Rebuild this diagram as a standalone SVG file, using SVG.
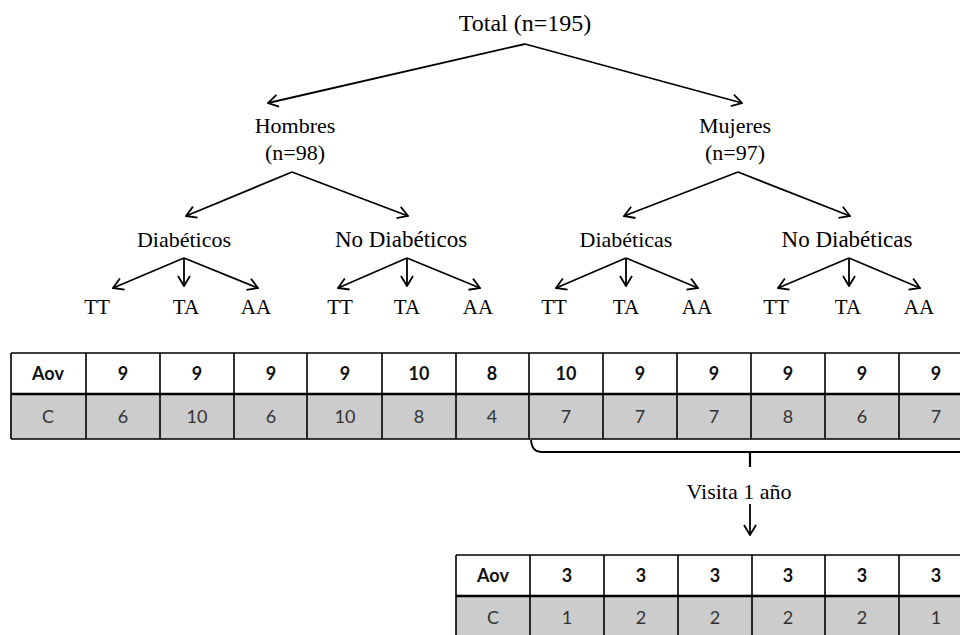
<svg xmlns="http://www.w3.org/2000/svg" width="960" height="635" viewBox="0 0 960 635">
  <defs>
    <marker id="head" viewBox="0 0 12 14" refX="11" refY="7" markerWidth="12" markerHeight="14" markerUnits="userSpaceOnUse" orient="auto">
      <path d="M1,1 L11,7 L1,13" fill="none" stroke="#000" stroke-width="1.8"/>
    </marker>
    <style>
      .lbl { font-family: "Liberation Serif", "Times New Roman", serif; font-size: 22px; fill: #000; text-anchor: middle; }
      .big { font-size: 24px; }
      .mid { font-size: 23px; }
      .gt { font-size: 21px; }
      .edge { stroke: #000; stroke-width: 1.8; fill: none; marker-end: url(#head); }
      .grid { stroke: #000; stroke-width: 1.6; fill: none; }
      .hdr { fill: #fff; }
      .shade { fill: #cccccc; }
      .th { font-family: Lato, "Open Sans", sans-serif; font-size: 18px; font-weight: bold; fill: #111; text-anchor: middle; }
      .td { font-family: Lato, "Open Sans", sans-serif; font-size: 18px; fill: #333; text-anchor: middle; }
    </style>
  </defs>
  <rect width="960" height="635" fill="#fff"/>

  <!-- tree labels -->
  <g id="total"><text class="lbl big" x="525" y="31">Total (n=195)</text></g>
  <g id="hombres"><text class="lbl" x="295" y="133">Hombres</text><text class="lbl" x="295" y="160">(n=98)</text></g>
  <g id="mujeres"><text class="lbl" x="735" y="133">Mujeres</text><text class="lbl" x="735" y="160">(n=97)</text></g>
  <g id="h-diab"><text class="lbl" x="184" y="247">Diab&#233;ticos</text></g>
  <g id="h-nodiab"><text class="lbl mid" x="401" y="247">No Diab&#233;ticos</text></g>
  <g id="m-diab"><text class="lbl" x="626" y="247">Diab&#233;ticas</text></g>
  <g id="m-nodiab"><text class="lbl mid" x="847" y="247">No Diab&#233;ticas</text></g>
  <g id="genotypes">
    <text class="lbl gt" x="97" y="314">TT</text><text class="lbl gt" x="186" y="314">TA</text><text class="lbl gt" x="256" y="314">AA</text>
    <text class="lbl gt" x="340" y="314">TT</text><text class="lbl gt" x="407" y="314">TA</text><text class="lbl gt" x="478" y="314">AA</text>
    <text class="lbl gt" x="554" y="314">TT</text><text class="lbl gt" x="626" y="314">TA</text><text class="lbl gt" x="697" y="314">AA</text>
    <text class="lbl gt" x="776" y="314">TT</text><text class="lbl gt" x="848" y="314">TA</text><text class="lbl gt" x="919" y="314">AA</text>
  </g>
  <g id="visita"><text class="lbl" x="739" y="499">Visita 1 a&#241;o</text></g>

  <!-- connectors -->
  <g id="connectors">
    <line class="edge" x1="525" y1="44" x2="268" y2="103"/>
    <line class="edge" x1="525" y1="44" x2="742" y2="103"/>
    <line class="edge" x1="292" y1="172" x2="186" y2="216"/>
    <line class="edge" x1="292" y1="172" x2="408" y2="216"/>
    <line class="edge" x1="738" y1="172" x2="624" y2="216"/>
    <line class="edge" x1="738" y1="172" x2="850" y2="216"/>

    <line class="edge" x1="184" y1="258" x2="113" y2="288"/>
    <line class="edge" x1="184" y1="258" x2="184" y2="286"/>
    <line class="edge" x1="184" y1="258" x2="258" y2="288"/>
    <line class="edge" x1="407" y1="258" x2="338" y2="288"/>
    <line class="edge" x1="407" y1="258" x2="407" y2="286"/>
    <line class="edge" x1="407" y1="258" x2="480" y2="288"/>
    <line class="edge" x1="626" y1="258" x2="556" y2="288"/>
    <line class="edge" x1="626" y1="258" x2="626" y2="286"/>
    <line class="edge" x1="626" y1="258" x2="698" y2="288"/>
    <line class="edge" x1="849" y1="258" x2="778" y2="288"/>
    <line class="edge" x1="849" y1="258" x2="849" y2="286"/>
    <line class="edge" x1="849" y1="258" x2="920" y2="288"/>

    <!-- brace under the women's columns -->
    <path d="M531,440 Q532,452 541,452 H962" fill="none" stroke="#000" stroke-width="1.8"/>
    <line x1="750" y1="452" x2="750" y2="467" stroke="#000" stroke-width="2.2"/>
    <line class="edge" x1="750" y1="504" x2="750" y2="535"/>
  </g>

  <!-- baseline table -->
  <g id="table-baseline">
    <rect class="hdr" x="11" y="353" width="960" height="41"/>
    <rect class="shade" x="11" y="394" width="960" height="45"/>
    <path class="grid" d="M11,353 H962 M11,439 H962 M11,353 V439 M86,353 V439 M160,353 V439 M234,353 V439 M307,353 V439 M382,353 V439 M456,353 V439 M529,353 V439 M603,353 V439 M677,353 V439 M751,353 V439 M825,353 V439 M899,353 V439"/>
    <path d="M11,394 H962" stroke="#000" stroke-width="2.6"/>
    <text class="th" x="48" y="380">Aov</text>
    <text class="th" x="123" y="380">9</text>
    <text class="th" x="197" y="380">9</text>
    <text class="th" x="271" y="380">9</text>
    <text class="th" x="345" y="380">9</text>
    <text class="th" x="419" y="380">10</text>
    <text class="th" x="492" y="380">8</text>
    <text class="th" x="566" y="380">10</text>
    <text class="th" x="640" y="380">9</text>
    <text class="th" x="714" y="380">9</text>
    <text class="th" x="788" y="380">9</text>
    <text class="th" x="862" y="380">9</text>
    <text class="th" x="936" y="380">9</text>
    <text class="td" x="48" y="423">C</text>
    <text class="td" x="123" y="423">6</text>
    <text class="td" x="197" y="423">10</text>
    <text class="td" x="271" y="423">6</text>
    <text class="td" x="345" y="423">10</text>
    <text class="td" x="419" y="423">8</text>
    <text class="td" x="492" y="423">4</text>
    <text class="td" x="566" y="423">7</text>
    <text class="td" x="640" y="423">7</text>
    <text class="td" x="714" y="423">7</text>
    <text class="td" x="788" y="423">8</text>
    <text class="td" x="862" y="423">6</text>
    <text class="td" x="936" y="423">7</text>
  </g>

  <!-- one-year follow-up table -->
  <g id="table-followup">
    <rect class="hdr" x="456" y="555" width="510" height="41"/>
    <rect class="shade" x="456" y="596" width="510" height="45"/>
    <path class="grid" d="M456,555 H962 M456,555 V640 M530,555 V640 M604,555 V640 M678,555 V640 M752,555 V640 M825,555 V640 M899,555 V640"/>
    <path d="M456,596 H962" stroke="#000" stroke-width="2.6"/>
    <text class="th" x="493" y="582">Aov</text>
    <text class="th" x="567" y="582">3</text>
    <text class="th" x="641" y="582">3</text>
    <text class="th" x="715" y="582">3</text>
    <text class="th" x="788" y="582">3</text>
    <text class="th" x="862" y="582">3</text>
    <text class="th" x="936" y="582">3</text>
    <text class="td" x="493" y="624">C</text>
    <text class="td" x="567" y="624">1</text>
    <text class="td" x="641" y="624">2</text>
    <text class="td" x="715" y="624">2</text>
    <text class="td" x="788" y="624">2</text>
    <text class="td" x="862" y="624">2</text>
    <text class="td" x="936" y="624">1</text>
  </g>
</svg>
